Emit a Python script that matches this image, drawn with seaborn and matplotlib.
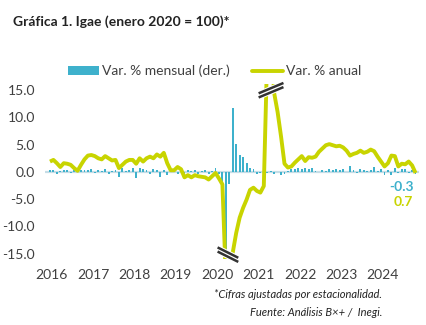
import numpy as np
import pandas as pd
import matplotlib
matplotlib.use("Agg")
import matplotlib.pyplot as plt
import seaborn as sns
from matplotlib.patches import Patch
from matplotlib.lines import Line2D

# ---------------- data ----------------
years = [2016, 2017, 2018, 2019, 2020, 2021, 2022, 2023, 2024]
year_labels = [str(y) for y in years]

monthly = [
    0.3, 0.4, -0.3, 0.2, 0.3, 0.4, -0.2, 0.4, 0.2, 0.3, 0.4, 0.3,      # 2016
    0.5, -0.2, 0.4, 0.2, 0.5, -0.3, 0.1, 0.3, -1.0, 0.7, 0.2, 0.3,     # 2017
    0.7, -1.2, 0.8, 0.5, 0.3, -0.3, 0.5, 0.4, -1.0, 0.4, -0.5, 0.6,    # 2018
    0.2, -0.3, 0.3, -0.4, 0.4, 0.2, 0.3, -0.3, 0.1, 0.3, -0.4, 0.2,    # 2019
    0.8, -0.4, -2.0, -17.5, -2.2, 11.8, 5.1, 3.1, 2.8, 1.6, 0.8, 0.5,  # 2020
    -0.4, -0.2, 0.2, -0.2, 0.1, -0.3, -0.1, -0.5, -0.4, 0.2, 0.6, 0.5, # 2021
    0.7, 0.6, 0.7, 0.5, 0.8, 0.2, -0.1, 0.4, 0.1, 0.5, 0.4, 0.5,       # 2022
    0.4, 0.6, -0.1, 1.0, 0.3, -0.2, 0.5, 0.4, 0.1, 0.3, 0.9, 0.2,      # 2023
    0.5, -0.6, 0.4, -0.5, 0.7, -0.2, 0.6, 0.5, -0.2, 0.4, -0.3,        # 2024
]
annual = [
    1.9, 2.2, 1.6, 0.9, 1.6, 1.5, 1.3, 0.7, 0.2, 1.3, 2.3, 3.0,        # 2016
    3.1, 2.9, 2.5, 2.3, 2.9, 2.5, 2.1, 2.2, 0.7, 1.3, 1.9, 2.2,        # 2017
    2.2, 1.5, 2.5, 1.9, 2.5, 2.8, 2.5, 3.2, 2.8, 3.5, 1.6, 0.3,        # 2018
    0.3, 0.9, 0.5, -1.0, -0.6, -1.0, -0.6, -0.8, -0.9, -1.0, -1.4, -0.8,  # 2019
    -0.2, -1.2, -2.3, -19.7, -21.6, -14.8, -11.2, -8.4, -6.6, -5.1, -3.3, -2.9,  # 2020
    -3.5, -3.8, -2.6, 22.0, 25.0, 14.5, 11.0, 6.5, 1.5, 0.8, 1.0, 1.7,  # 2021
    2.3, 2.9, 2.0, 2.7, 2.6, 2.8, 3.7, 4.3, 4.9, 5.1, 4.9, 4.7,        # 2022
    4.8, 4.5, 3.9, 3.0, 3.3, 3.5, 3.9, 3.5, 3.7, 4.1, 3.8, 2.8,        # 2023
    1.9, 1.0, 1.6, 3.0, 2.9, 1.0, 1.5, 1.4, 1.9, 1.2, -0.2,            # 2024
]
last_monthly_label = "-0.3"
last_annual_label = "0.7"

title = "Gráfica 1. Igae (enero 2020 = 100)*"
legend_labels = ["Var. % mensual (der.)", "Var. % anual"]
notes = ["*Cifras ajustadas por estacionalidad.", "Fuente: Análisis B×+ /  Inegi."]

# ---------------- styling ----------------
BLUE = "#3eb1cc"
YELLOW = "#c8d400"
ZERO = "#c6dde6"
TXT = "#404040"

sns.set_theme(style="white")
plt.rcParams["font.family"] = ["Lato", "DejaVu Sans"]

months = np.arange(len(annual))
df = pd.DataFrame({"m": months, "mensual": monthly, "anual": annual})

fig = plt.figure(figsize=(4.27, 3.25), dpi=100)
ax = fig.add_axes([44.8 / 427, 0.203, (419 - 44.8) / 427, 0.7425 - 0.203])

ax.axhline(0, color=ZERO, lw=1.6, zorder=0.5)
sns.barplot(data=df, x="m", y="mensual", native_scale=True, color=BLUE,
            saturation=1, width=0.55, errorbar=None, ax=ax, zorder=2,
            linewidth=0, edgecolor="none")
sns.lineplot(data=df, x="m", y="anual", color=YELLOW, lw=2.8, ax=ax,
             zorder=3, solid_capstyle="butt")

ax.set_ylim(-16, 16.2)
ax.set_xlim(-1.5, 107)
ax.set_yticks([-15, -10, -5, 0, 5, 10, 15])
ax.set_yticklabels([f"{v:.1f}" for v in [-15, -10, -5, 0, 5, 10, 15]])
ax.set_xticks([12 * i + 0.5 for i in range(len(years))])
ax.set_xticklabels(year_labels)
ax.tick_params(axis="y", length=0, pad=7, labelsize=10, labelcolor=TXT)
ax.tick_params(axis="x", length=0, pad=7, labelsize=10, labelcolor=TXT)
ax.set_xlabel("")
ax.set_ylabel("")
for s in ax.spines.values():
    s.set_visible(False)
ax.set_facecolor("none")

# axis-break marks at clipped extremes
i_min = int(np.argmin(annual))
i_max = int(np.argmax(annual))

def brk(xc, yc, dx, dy, sep):
    ax.plot([xc - dx, xc + dx], [yc - dy, yc + dy], color="white", lw=6,
            clip_on=False, zorder=5, solid_capstyle="butt")
    for s in (-sep, sep):
        ax.plot([xc - dx, xc + dx], [yc - dy + s, yc + dy + s], color="#333333",
                lw=1.8, clip_on=False, zorder=6, solid_capstyle="butt")

brk(i_min - 0.4, -15.2, 3.0, -0.95, 0.38)
brk(i_max + 0.1, 15.0, 3.6, 0.95, 0.38)

# end labels
ax.text(months[-1] - 0.6, -2.75, last_monthly_label, color=BLUE, fontsize=10,
        fontweight="bold", ha="right", va="center")
ax.text(months[-1] - 0.6, -5.5, last_annual_label, color=YELLOW, fontsize=10,
        fontweight="bold", ha="right", va="center")

# title
fig.text(13 / 427, 1 - 22 / 325, title, fontsize=10, fontweight="bold",
         color="#222222", ha="left", va="center")

# legend
handles = [Patch(facecolor=BLUE, edgecolor="none"),
           Line2D([0], [0], color=YELLOW, lw=2.8)]
fig.legend(handles, legend_labels, loc="center", ncol=2,
           bbox_to_anchor=(215 / 427, 1 - 71 / 325), frameon=False,
           fontsize=10, handlelength=2.2, handleheight=0.6, handletextpad=0.25,
           columnspacing=1.6, labelcolor=TXT)

# notes
fig.text(382 / 427, 1 - 295 / 325, notes[0], fontsize=8, style="italic",
         color="#222222", ha="right", va="center")
fig.text(382 / 427, 1 - 312 / 325, notes[1], fontsize=8, style="italic",
         color="#222222", ha="right", va="center")

fig.savefig("out.png", dpi=100)
